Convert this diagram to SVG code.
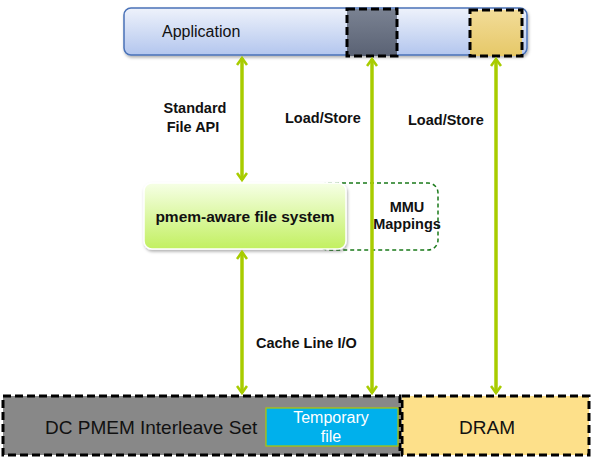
<svg xmlns="http://www.w3.org/2000/svg" width="592" height="468" viewBox="0 0 592 468">
<defs>
<linearGradient id="gApp" x1="0" y1="0" x2="0" y2="1"><stop offset="0" stop-color="#eef2fb"/><stop offset="1" stop-color="#b3c6ee"/></linearGradient>
<linearGradient id="gDark" x1="0" y1="0" x2="0" y2="1"><stop offset="0" stop-color="#7a8292"/><stop offset="1" stop-color="#5a6274"/></linearGradient>
<linearGradient id="gYel" x1="0" y1="0" x2="0" y2="1"><stop offset="0" stop-color="#f2dc98"/><stop offset="1" stop-color="#e6c868"/></linearGradient>
<linearGradient id="gFs" x1="0" y1="0" x2="0" y2="1"><stop offset="0" stop-color="#f6ffe6"/><stop offset="1" stop-color="#c2f060"/></linearGradient>
<filter id="sh" x="-10%" y="-10%" width="130%" height="140%"><feDropShadow dx="1" dy="2" stdDeviation="1.5" flood-color="#000" flood-opacity="0.3"/></filter>
<marker id="ah" viewBox="0 0 12 12" refX="9" refY="6" markerWidth="12" markerHeight="12" markerUnits="userSpaceOnUse" orient="auto-start-reverse">
<path d="M2,1 L9,6 L2,11" fill="none" stroke="#a8cc00" stroke-width="2.6"/>
</marker>
<style>
.lbl{font-family:"Liberation Sans",Arial,sans-serif;font-weight:bold;font-size:14.5px;fill:#111}
.big{font-family:"Liberation Sans",Arial,sans-serif;font-size:17px;fill:#111}
.conn{stroke:#a8cc00;stroke-width:3.5;fill:none;marker-start:url(#ah);marker-end:url(#ah)}
.dash{stroke:#000;stroke-width:3;stroke-dasharray:8,4}
</style>
</defs>
<g id="application">
<rect x="124" y="8" width="403" height="47" rx="7" fill="url(#gApp)" stroke="#4a72b8" stroke-width="1.5" filter="url(#sh)"/>
<text x="162" y="37" class="big" style="font-size:16px">Application</text>
<rect x="347" y="9" width="50" height="47" fill="url(#gDark)" class="dash"/>
<rect x="470" y="10" width="52" height="46" fill="url(#gYel)" class="dash"/>
</g>
<g id="mmu">
<rect x="318" y="183" width="120" height="67" rx="10" fill="#fff" stroke="#1a7a1a" stroke-width="1.5" stroke-dasharray="4,3"/>
<text x="407" y="212" class="lbl" text-anchor="middle">MMU</text>
<text x="407" y="229" class="lbl" text-anchor="middle">Mappings</text>
</g>
<g id="filesystem">
<rect x="144" y="183" width="202" height="66" rx="8" fill="url(#gFs)" stroke="#fff" stroke-width="1.5" filter="url(#sh)"/>
<text x="245" y="222" class="lbl" text-anchor="middle" style="font-size:15.5px">pmem-aware file system</text>
</g>
<g id="pmem">
<rect x="3" y="396" width="397" height="59" fill="#888888" class="dash"/>
<text x="45" y="434" class="big" style="font-size:19px">DC PMEM Interleave Set</text>
</g>
<g id="tempfile">
<rect x="266" y="408" width="132" height="38" fill="#00b0ec" stroke="#b0c800" stroke-width="1.2"/>
<text x="331" y="423" class="big" text-anchor="middle" style="fill:#fff;font-size:16px">Temporary</text>
<text x="331" y="442" class="big" text-anchor="middle" style="fill:#fff;font-size:16px">file</text>
</g>
<g id="dram">
<rect x="402" y="396" width="187" height="59" fill="#fde08a" class="dash"/>
<text x="487" y="434" class="big" text-anchor="middle" style="font-size:19px">DRAM</text>
</g>
<g id="connectors">
<line x1="242" y1="58" x2="242" y2="180" class="conn"/>
<line x1="242" y1="252" x2="242" y2="393" class="conn"/>
<line x1="372" y1="59" x2="372" y2="393" class="conn"/>
<line x1="496" y1="59" x2="496" y2="393" class="conn"/>
</g>
<g id="labels">
<text x="195" y="113" class="lbl" text-anchor="middle">Standard</text>
<text x="193" y="132" class="lbl" text-anchor="middle">File API</text>
<text x="285" y="123" class="lbl">Load/Store</text>
<text x="408" y="125" class="lbl">Load/Store</text>
<text x="256" y="348" class="lbl">Cache Line I/O</text>
</g>
</svg>
